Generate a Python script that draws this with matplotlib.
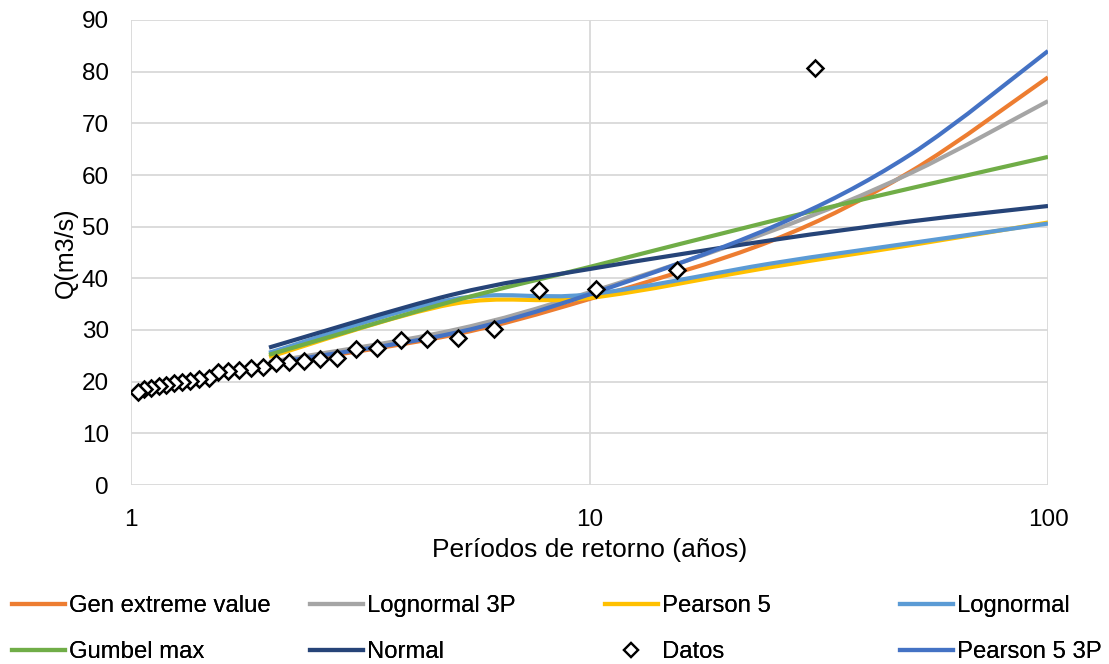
import numpy as np
import matplotlib
matplotlib.use("Agg")
import matplotlib.pyplot as plt
from matplotlib.path import Path
from matplotlib.patches import PathPatch
from matplotlib.lines import Line2D

plt.rcParams['font.family'] = ['Liberation Sans', 'DejaVu Sans']

# ---- data ----
T_fit = [2, 5, 10, 25, 50, 100]
gen_extreme = [23.2, 29.0, 36.0, 47.3, 60.6, 78.9]
lognormal_3p = [23.8, 29.9, 37.3, 49.2, 60.3, 74.3]
pearson5 = [24.8, 35.0, 36.2, 42.2, 46.4, 50.8]
lognormal = [25.6, 35.9, 36.9, 42.9, 46.8, 50.6]
gumbel_max = [25.2, 35.5, 42.2, 51.1, 57.4, 63.5]
normal = [26.6, 36.8, 41.8, 47.4, 51.0, 54.0]
pearson5_3p = [23.5, 29.3, 36.9, 49.9, 63.9, 84.0]

n_obs = 30
rank = list(range(1, n_obs + 1))
Q_obs_desc = [80.7, 41.6, 37.9, 37.7, 30.2, 28.5, 28.3, 28.1, 26.5, 26.3,
              24.6, 24.4, 24.0, 23.8, 23.6, 22.8, 22.6, 22.3, 22.1, 21.9,
              20.8, 20.6, 20.1, 19.9, 19.7, 19.3, 19.1, 18.8, 18.6, 18.0]
T_obs = [(n_obs + 1) / m for m in rank]

series = [
    ("Gen extreme value", gen_extreme, "#ED7D31"),
    ("Lognormal 3P", lognormal_3p, "#A5A5A5"),
    ("Pearson 5", pearson5, "#FFC000"),
    ("Lognormal", lognormal, "#5B9BD5"),
    ("Gumbel max", gumbel_max, "#70AD47"),
    ("Normal", normal, "#264478"),
    ("Pearson 5 3P", pearson5_3p, "#4472C4"),
]

W, H = 1109, 664
fig = plt.figure(figsize=(W / 100, H / 100), dpi=100)
ax = fig.add_axes([131 / W, 1 - 485 / H, (1048 - 131) / W, (485 - 20) / H])
ax.set_xscale('log')
ax.set_xlim(1, 100)
ax.set_ylim(0, 90)


def smooth_path(xs, ys):
    """Excel-style smoothed line: cubic Bezier control points in (log x, y)."""
    u = np.log10(np.asarray(xs, float))
    y = np.asarray(ys, float)
    P = np.column_stack([u, y])
    n = len(P)
    verts = [P[0]]
    codes = [Path.MOVETO]
    for i in range(n - 1):
        p0 = P[i - 1] if i > 0 else P[i]
        p1 = P[i]
        p2 = P[i + 1]
        p3 = P[i + 2] if i + 2 < n else P[i + 1]
        c1 = p1 + (p2 - p0) / 6.0
        c2 = p2 - (p3 - p1) / 6.0
        verts += [c1, c2, p2]
        codes += [Path.CURVE4] * 3
    verts = np.array(verts)
    verts[:, 0] = 10 ** verts[:, 0]
    return Path(verts, codes)


lw = 3.0
handles = {}
for i, (name, vals, col) in enumerate(series):
    patch = PathPatch(smooth_path(T_fit, vals), facecolor='none', edgecolor=col,
                      lw=lw, capstyle='butt', joinstyle='round', zorder=3 + i * 0.1)
    ax.add_patch(patch)
    handles[name] = Line2D([], [], color=col, lw=lw)

ax.plot(T_obs, Q_obs_desc, linestyle='none', marker='D', markersize=8.5,
        markerfacecolor='white', markeredgecolor='black', markeredgewidth=1.8,
        zorder=5)
handles["Datos"] = Line2D([], [], linestyle='none', marker='D', markersize=7,
                          markerfacecolor='white', markeredgecolor='black',
                          markeredgewidth=1.6)

# grid and axes styling
ax.set_yticks(np.arange(0, 91, 10))
ax.set_xticks([1, 10, 100])
ax.set_xticklabels(['1', '10', '100'])
ax.xaxis.set_minor_locator(matplotlib.ticker.NullLocator())
ax.grid(True, which='major', color='#D9D9D9', lw=1.3)
ax.set_axisbelow(True)
for s in ax.spines.values():
    s.set_visible(False)
ax.tick_params(axis='both', length=0, labelsize=17.5, colors='black')
ax.tick_params(axis='x', pad=17)
ax.tick_params(axis='y', pad=16)

ax.set_xlabel('Períodos de retorno (años)', fontsize=19)
ax.xaxis.set_label_coords(0.5, -0.113)
ax.set_ylabel('Q(m3/s)', fontsize=18)
ax.yaxis.set_label_coords(-0.058, 0.5)

# legend: 4 columns x 2 rows, manually placed columns
cols = [["Gen extreme value", "Gumbel max"],
        ["Lognormal 3P", "Normal"],
        ["Pearson 5", "Datos"],
        ["Lognormal", "Pearson 5 3P"]]
col_x = [12, 310, 605, 900]
for cx, names in zip(col_x, cols):
    leg = fig.legend([handles[n] for n in names], names, loc='upper left',
                     bbox_to_anchor=(cx / W, 1 - 595 / H), frameon=False,
                     fontsize=17.2, handlelength=2.2, handletextpad=0.2,
                     borderpad=0, borderaxespad=0, labelspacing=1.0)
    fig.add_artist(leg)

fig.savefig('out.png', dpi=100)
